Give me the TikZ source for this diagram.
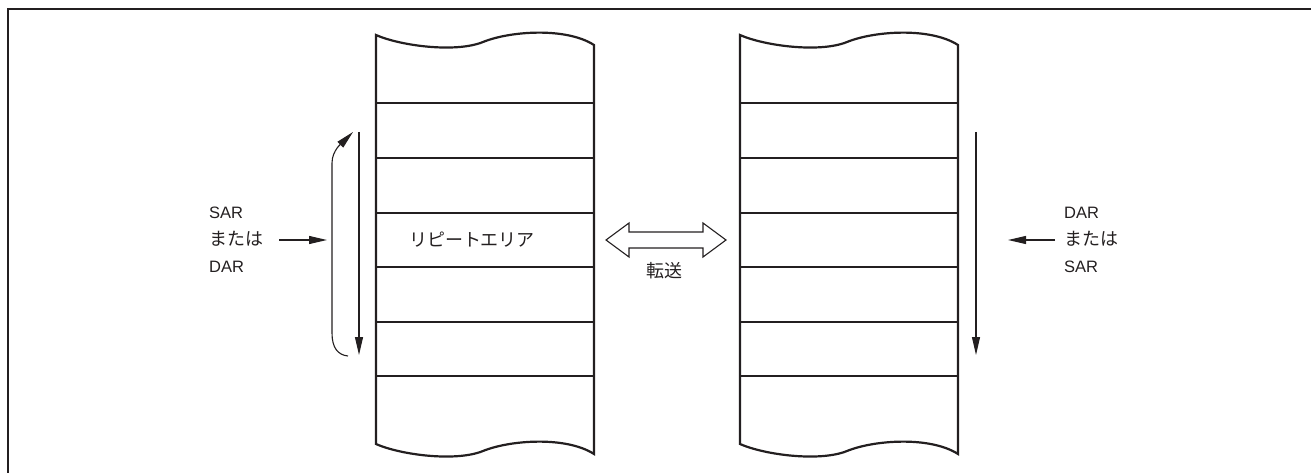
\documentclass[tikz,border=0pt]{standalone}
\usepackage{fontspec}
\setmainfont{Liberation Sans}
\newfontfamily\jp{Noto Sans CJK JP}[Scale=1.09]
\usetikzlibrary{arrows.meta,positioning}
\definecolor{inkblack}{HTML}{231F20}

\tikzset{
  colline/.style={draw=inkblack, line width=2.2pt},
  ptr/.style={draw=inkblack, line width=1.1pt, -{Triangle[length=18pt,width=8pt]}},
  reglabel/.style={anchor=west, align=left, inner sep=0pt, text=inkblack,
    font=\fontsize{16.5}{27}\selectfont},
}

\begin{document}
\begin{tikzpicture}[x=1pt,y=-1pt]
\useasboundingbox (0,0) rectangle (1311,473);
% frame (only top and left edges are in view)
\draw[inkblack, line width=2.8pt] (8,473) |- (1311,9);

% the two memory columns with torn top and bottom edges
\foreach \cx in {376,740} {
  \begin{scope}[xshift=\cx pt]
    \draw[colline] (0,35) .. controls (25,46) and (80,53) .. (107,42)
      .. controls (134,31) and (190,27) .. (218,45) -- (218,454)
      .. controls (190,436) and (134,440) .. (107,451)
      .. controls (80,462) and (25,455) .. (0,444) -- cycle;
    \foreach \ry in {103,158,213,267,322,376}
      \draw[colline] (0,\ry) -- (218,\ry);
  \end{scope}
}
\node[inkblack, inner sep=0pt, font=\jp\fontsize{16.5}{27}\selectfont] (repeat) at (472,240) {リピートエリア};

% left side: address register and repeat wrap-around
\node[reglabel] (regL) at (209,240) {SAR\\{\jp または}\\DAR};
\coordinate (tipL) at (327,240);
\draw[ptr] ([xshift=16pt]regL.east) -- (tipL);
\coordinate (downLtop) at (359,132);
\coordinate (downLbot) at (359,355);
\draw[ptr] (downLtop) -- (downLbot);
\coordinate (wrapS) at (348,356);
\coordinate (wrapE) at (353,132);
\draw[ptr] (wrapS) .. controls (338,355) and (332,348) .. (332,333)
  -- (332,163) .. controls (332,150) and (343,142) .. (wrapE);

% transfer between the two areas
\draw[inkblack, line width=1.1pt] (606,240) -- (629,223) -- (629,232) -- (703,232)
  -- (703,223) -- (726,240) -- (703,257) -- (703,248) -- (629,248) -- (629,257) -- cycle;
\node[inkblack, inner sep=0pt, font=\jp\fontsize{16.5}{27}\selectfont] (xfer) at (664,271) {転送};

% right side
\node[reglabel] (regR) at (1064,240) {DAR\\{\jp または}\\SAR};
\coordinate (tipR) at (1008,240);
\draw[ptr] ([xshift=-9pt]regR.west) -- (tipR);
\coordinate (downRtop) at (976,132);
\coordinate (downRbot) at (976,355);
\draw[ptr] (downRtop) -- (downRbot);
\end{tikzpicture}
\end{document}
